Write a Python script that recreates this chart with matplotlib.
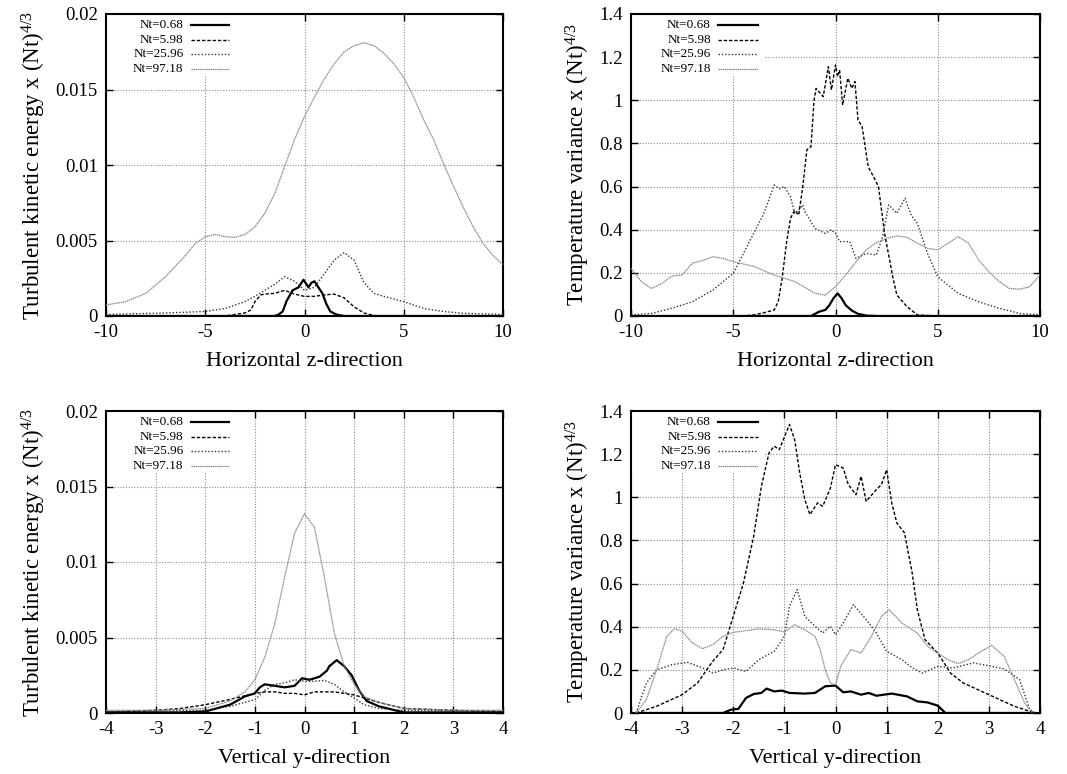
import matplotlib
matplotlib.use("Agg")
import matplotlib.pyplot as plt
from matplotlib.patches import Rectangle
from matplotlib.lines import Line2D

plt.rcParams['font.family'] = ['Liberation Serif', 'DejaVu Serif']
plt.rcParams['mathtext.fontset'] = 'custom'
plt.rcParams['mathtext.rm'] = 'Liberation Serif'
plt.rcParams['mathtext.it'] = 'Liberation Serif:italic'

series_labels = ['Nt=0.68', 'Nt=5.98', 'Nt=25.96', 'Nt=97.18']

# ---------------- Panel 1: TKE vs horizontal z ----------------
tke_z_x_068 = [-10, -2, -1.5, -1.3, -1.1, -0.9, -0.6, -0.3, -0.05, 0.2, 0.35, 0.5, 0.7, 0.9, 1.1, 1.3, 1.6, 2, 10]
tke_z_y_068 = [0, 0, 0, 0.0001, 0.0003, 0.001, 0.0017, 0.0019, 0.0024, 0.0019, 0.0022, 0.0023, 0.0019, 0.0015, 0.0008, 0.0003, 0.0001, 0, 0]
tke_z_x_598 = [-10, -4, -3, -2.7, -2.5, -2.2, -2, -1.5, -1, -0.5, 0, 0.5, 1, 1.5, 2, 2.5, 3, 3.5, 4, 10]
tke_z_y_598 = [0, 0, 0.0002, 0.0004, 0.00095, 0.0014, 0.00145, 0.0015, 0.0017, 0.00145, 0.0013, 0.0013, 0.0014, 0.00145, 0.0012, 0.0006, 0.0002, 0.00003, 0, 0]
tke_z_x_2596 = [-10, -7, -5, -4, -3, -2.5, -2, -1.5, -1, -0.5, 0, 0.5, 1, 1.5, 2, 2.5, 3, 3.5, 4, 5, 6, 7, 8, 10]
tke_z_y_2596 = [0.0001, 0.0002, 0.0003, 0.0005, 0.00095, 0.0013, 0.0017, 0.0021, 0.0026, 0.0023, 0.0017, 0.0019, 0.0028, 0.0037, 0.0042, 0.0037, 0.0022, 0.0015, 0.0013, 0.00095, 0.0005, 0.0003, 0.00018, 0.0001]
tke_z_x_9718 = [-10, -9, -8, -7.5, -7, -6.5, -6, -5.5, -5, -4.5, -4, -3.5, -3, -2.5, -2, -1.5, -1, -0.5, 0, 0.5, 1, 1.5, 2, 2.5, 3, 3.5, 4, 4.5, 5, 5.5, 6, 6.5, 7, 7.5, 8, 8.5, 9, 9.5, 10]
tke_z_y_9718 = [0.00073, 0.00095, 0.0015, 0.00205, 0.0026, 0.0033, 0.0040, 0.0048, 0.00525, 0.0054, 0.00525, 0.0052, 0.0054, 0.0059, 0.0068, 0.0081, 0.0099, 0.0117, 0.0132, 0.0145, 0.0157, 0.0167, 0.0175, 0.0179, 0.0181, 0.0179, 0.0174, 0.0167, 0.0158, 0.0145, 0.0130, 0.0117, 0.0101, 0.0086, 0.0072, 0.0059, 0.0048, 0.0040, 0.0034]

# ---------------- Panel 2: temperature variance vs horizontal z ----------------
tv_z_x_068 = [-10, -1.2, -1, -0.8, -0.5, -0.3, -0.1, 0.1, 0.3, 0.5, 0.8, 1.1, 1.5, 2, 10]
tv_z_y_068 = [0, 0, 0.01, 0.02, 0.028, 0.05, 0.082, 0.105, 0.082, 0.05, 0.025, 0.01, 0.002, 0, 0]
tv_z_x_598 = [-10, -4.5, -4, -3.5, -3, -2.8, -2.6, -2.4, -2.2, -2, -1.8, -1.6, -1.4, -1.2, -1.05, -0.95, -0.6, -0.35, -0.2, 0, 0.1, 0.2, 0.35, 0.6, 0.8, 0.95, 1.1, 1.3, 1.6, 1.9, 2.1, 2.4, 2.8, 3, 3.5, 4, 5, 10]
tv_z_y_598 = [0, 0, 0.005, 0.015, 0.028, 0.066, 0.18, 0.337, 0.453, 0.49, 0.468, 0.60, 0.77, 0.785, 1.0, 1.055, 1.017, 1.156, 1.048, 1.164, 1.11, 1.14, 0.978, 1.102, 1.055, 1.087, 0.909, 0.878, 0.692, 0.638, 0.60, 0.383, 0.182, 0.097, 0.043, 0.005, 0, 0]
tv_z_x_2596 = [-10, -9, -8, -7, -6, -5, -4.5, -4, -3.5, -3, -2.75, -2.5, -2.2, -2, -1.8, -1.6, -1.5, -1, -0.5, -0.2, 0, 0.2, 0.7, 1, 1.5, 2, 2.3, 2.6, 3, 3.4, 3.7, 4, 4.5, 5, 6, 7, 8, 9, 10]
tv_z_y_2596 = [0.005, 0.012, 0.036, 0.066, 0.12, 0.198, 0.29, 0.383, 0.476, 0.607, 0.59, 0.60, 0.553, 0.476, 0.49, 0.515, 0.484, 0.406, 0.383, 0.40, 0.383, 0.345, 0.345, 0.267, 0.29, 0.283, 0.368, 0.515, 0.476, 0.546, 0.468, 0.43, 0.29, 0.182, 0.105, 0.066, 0.036, 0.012, 0.005]
tv_z_x_9718 = [-10, -9.5, -9, -8.5, -8, -7.5, -7, -6.5, -6, -5.5, -5, -4, -3, -2, -1, -0.5, 0, 0.5, 1, 1.5, 2, 2.5, 3, 3.5, 4, 4.5, 5, 5.5, 6, 6.5, 7, 7.5, 8, 8.5, 9, 9.5, 10]
tv_z_y_9718 = [0.221, 0.16, 0.128, 0.15, 0.185, 0.19, 0.245, 0.257, 0.275, 0.267, 0.252, 0.23, 0.19, 0.16, 0.105, 0.097, 0.136, 0.19, 0.252, 0.306, 0.34, 0.36, 0.371, 0.365, 0.337, 0.314, 0.306, 0.337, 0.368, 0.337, 0.26, 0.205, 0.16, 0.128, 0.124, 0.136, 0.19]

# ---------------- Panel 3: TKE vs vertical y ----------------
tke_y_x_068 = [-4, -2.5, -2, -1.5, -1.2, -1, -0.9, -0.8, -0.6, -0.4, -0.2, -0.05, 0.1, 0.3, 0.45, 0.5, 0.65, 0.8, 0.95, 1.1, 1.25, 1.5, 1.8, 2, 4]
tke_y_y_068 = [0.00004, 0.00004, 0.0001, 0.00055, 0.0011, 0.0013, 0.0017, 0.0019, 0.0018, 0.0017, 0.0018, 0.0023, 0.0022, 0.0024, 0.0028, 0.0031, 0.0035, 0.0031, 0.0025, 0.0015, 0.0008, 0.00044, 0.0002, 0.00004, 0.00004]
tke_y_x_598 = [-4, -3, -2.5, -2, -1.5, -1, -0.8, -0.6, -0.4, -0.2, 0, 0.2, 0.4, 0.6, 0.8, 1, 1.2, 1.5, 2, 3, 4]
tke_y_y_598 = [0.00005, 0.00018, 0.0003, 0.00055, 0.0009, 0.0013, 0.0014, 0.0014, 0.0013, 0.0013, 0.0012, 0.0014, 0.0014, 0.0014, 0.0013, 0.0012, 0.001, 0.0007, 0.0003, 0.00018, 0.0001]
tke_y_x_2596 = [-4, -2, -1.5, -1, -0.8, -0.6, -0.4, -0.2, 0, 0.2, 0.4, 0.6, 0.8, 1, 1.2, 1.5, 2, 4]
tke_y_y_2596 = [0.0001, 0.00018, 0.00044, 0.00088, 0.0015, 0.0019, 0.0020, 0.0022, 0.0021, 0.0021, 0.00216, 0.0019, 0.0014, 0.001, 0.00055, 0.0003, 0.00018, 0.0001]
tke_y_x_9718 = [-4, -3, -2, -1.5, -1.2, -1, -0.8, -0.6, -0.4, -0.2, 0, 0.2, 0.4, 0.6, 0.8, 1, 1.2, 1.5, 2, 3, 4]
tke_y_y_9718 = [0.00018, 0.00018, 0.0003, 0.0008, 0.0014, 0.0022, 0.0037, 0.0059, 0.0090, 0.0119, 0.0132, 0.0123, 0.0090, 0.0053, 0.0031, 0.0019, 0.0011, 0.0007, 0.0003, 0.00018, 0.00018]

# ---------------- Panel 4: temperature variance vs vertical y ----------------
tv_y_x_068 = [-3.9, -2.2, -2.05, -1.9, -1.75, -1.6, -1.45, -1.35, -1.2, -1.05, -0.9, -0.6, -0.4, -0.2, 0, 0.15, 0.3, 0.5, 0.65, 0.8, 1.1, 1.4, 1.6, 1.8, 2, 2.15, 3.9]
tv_y_y_068 = [0, 0, 0.015, 0.019, 0.07, 0.088, 0.093, 0.113, 0.1, 0.104, 0.093, 0.09, 0.093, 0.124, 0.127, 0.096, 0.1, 0.085, 0.093, 0.08, 0.09, 0.077, 0.054, 0.049, 0.034, 0, 0]
tv_y_x_598 = [-3.9, -3.5, -3, -2.7, -2.4, -2.2, -2, -1.8, -1.6, -1.45, -1.3, -1.2, -1.1, -0.9, -0.8, -0.7, -0.6, -0.5, -0.35, -0.25, -0.1, 0, 0.15, 0.25, 0.4, 0.5, 0.6, 0.8, 0.9, 1, 1.1, 1.2, 1.35, 1.5, 1.6, 1.75, 2, 2.25, 2.5, 3, 3.5, 3.9]
tv_y_y_598 = [0, 0.031, 0.085, 0.139, 0.24, 0.294, 0.448, 0.603, 0.819, 1.051, 1.206, 1.237, 1.221, 1.337, 1.268, 1.113, 0.989, 0.92, 0.974, 0.958, 1.043, 1.151, 1.136, 1.059, 1.012, 1.097, 0.981, 1.036, 1.059, 1.128, 0.974, 0.881, 0.835, 0.649, 0.479, 0.34, 0.278, 0.185, 0.139, 0.085, 0.031, 0]
tv_y_x_2596 = [-3.9, -3.7, -3.5, -3.2, -2.9, -2.6, -2.4, -2.2, -2, -1.75, -1.5, -1.2, -1, -0.9, -0.75, -0.6, -0.4, -0.25, -0.1, 0, 0.15, 0.35, 0.6, 0.8, 1, 1.3, 1.5, 1.7, 2, 2.3, 2.7, 3, 3.3, 3.6, 3.8, 3.9]
tv_y_y_2596 = [0, 0.139, 0.20, 0.224, 0.235, 0.209, 0.185, 0.20, 0.209, 0.193, 0.247, 0.286, 0.355, 0.495, 0.572, 0.448, 0.402, 0.371, 0.402, 0.363, 0.417, 0.502, 0.433, 0.371, 0.286, 0.247, 0.209, 0.185, 0.216, 0.209, 0.232, 0.219, 0.204, 0.155, 0.015, 0]
tv_y_x_9718 = [-3.9, -3.7, -3.5, -3.3, -3.15, -3, -2.8, -2.6, -2.4, -2.2, -2, -1.5, -1.2, -1, -0.8, -0.6, -0.4, -0.3, -0.2, -0.1, 0, 0.1, 0.3, 0.5, 0.7, 0.9, 1.05, 1.3, 1.6, 1.8, 2, 2.2, 2.4, 2.6, 2.8, 3.05, 3.3, 3.5, 3.7, 3.85]
tv_y_y_9718 = [0, 0.062, 0.20, 0.355, 0.391, 0.379, 0.325, 0.298, 0.317, 0.355, 0.374, 0.39, 0.386, 0.376, 0.41, 0.386, 0.355, 0.294, 0.20, 0.139, 0.131, 0.216, 0.294, 0.278, 0.355, 0.448, 0.479, 0.417, 0.371, 0.309, 0.278, 0.247, 0.229, 0.247, 0.278, 0.314, 0.263, 0.155, 0.046, 0]

# ticks
z_ticks = [-10, -5, 0, 5, 10]
z_ticklabels = ['-10', '-5', '0', '5', '10']
yv_ticks = [-4, -3, -2, -1, 0, 1, 2, 3, 4]
yv_ticklabels = ['-4', '-3', '-2', '-1', '0', '1', '2', '3', '4']
tke_ticks = [0, 0.005, 0.01, 0.015, 0.02]
tke_ticklabels = ['0', '0.005', '0.01', '0.015', '0.02']
tv_ticks = [0, 0.2, 0.4, 0.6, 0.8, 1.0, 1.2, 1.4]
tv_ticklabels = ['0', '0.2', '0.4', '0.6', '0.8', '1', '1.2', '1.4']

tke_label = r'Turbulent kinetic energy x (Nt)$^{4/3}$'
tv_label = r'Temperature variance x (Nt)$^{4/3}$'

styles = [
    dict(color='black', lw=1.6, ls='-'),
    dict(color='black', lw=1.0, ls=(0, (2.4, 1.4))),
    dict(color='#333333', lw=1.0, ls=(0, (1.0, 1.4))),
    dict(color='#8a8a8a', lw=0.9, ls=(0, (1.2, 0.5))),
]

W, H = 1067, 774
fig = plt.figure(figsize=(W / 100, H / 100), dpi=100)

panels = [
    ((106, 14, 503, 316), [(tke_z_x_068, tke_z_y_068), (tke_z_x_598, tke_z_y_598), (tke_z_x_2596, tke_z_y_2596), (tke_z_x_9718, tke_z_y_9718)],
     (-10, 10), z_ticks, z_ticklabels, (0, 0.02), tke_ticks, tke_ticklabels, 'Horizontal z-direction', tke_label),
    ((631, 14, 1040, 316), [(tv_z_x_068, tv_z_y_068), (tv_z_x_598, tv_z_y_598), (tv_z_x_2596, tv_z_y_2596), (tv_z_x_9718, tv_z_y_9718)],
     (-10, 10), z_ticks, z_ticklabels, (0, 1.4), tv_ticks, tv_ticklabels, 'Horizontal z-direction', tv_label),
    ((106, 411, 503, 713), [(tke_y_x_068, tke_y_y_068), (tke_y_x_598, tke_y_y_598), (tke_y_x_2596, tke_y_y_2596), (tke_y_x_9718, tke_y_y_9718)],
     (-4, 4), yv_ticks, yv_ticklabels, (0, 0.02), tke_ticks, tke_ticklabels, 'Vertical y-direction', tke_label),
    ((631, 411, 1040, 713), [(tv_y_x_068, tv_y_y_068), (tv_y_x_598, tv_y_y_598), (tv_y_x_2596, tv_y_y_2596), (tv_y_x_9718, tv_y_y_9718)],
     (-4, 4), yv_ticks, yv_ticklabels, (0, 1.4), tv_ticks, tv_ticklabels, 'Vertical y-direction', tv_label),
]

for (l, t, r, b), data, xlim, xt, xtl, ylim, yt, ytl, xlabel, ylabel in panels:
    ax = fig.add_axes([l / W, 1 - b / H, (r - l) / W, (b - t) / H])
    ax.set_axisbelow(True)
    ax.grid(True, color='#8c8c8c', ls=(0, (1, 1.5)), lw=0.8)
    ax.add_patch(Rectangle((0, 0.795), 0.325, 0.205, transform=ax.transAxes,
                           facecolor='white', edgecolor='none', zorder=1))
    for (xs, ys), st in zip(data, styles):
        ax.plot(xs, ys, zorder=3, **st)
    ax.set_xlim(*xlim)
    ax.set_ylim(*ylim)
    ax.set_xticks(xt)
    ax.set_xticklabels(xtl)
    ax.set_yticks(yt)
    ax.set_yticklabels(ytl)
    ax.tick_params(direction='in', length=5, width=1, top=True, right=True,
                   labelsize=13.5, pad=6)
    for sp in ax.spines.values():
        sp.set_linewidth(1.5)
    ax.set_xlabel(xlabel, fontsize=16, labelpad=8)
    ax.set_ylabel(ylabel, fontsize=16.5, labelpad=5)
    rows = [0.962, 0.915, 0.867, 0.819]
    for lab, st, yy in zip(series_labels, styles, rows):
        ax.text(0.195, yy, lab, transform=ax.transAxes, ha='right', va='center',
                fontsize=9.5, zorder=4)
        ax.add_line(Line2D([0.213, 0.31], [yy, yy], transform=ax.transAxes, zorder=4, **st))

fig.savefig('out.png', dpi=100, facecolor='white')
